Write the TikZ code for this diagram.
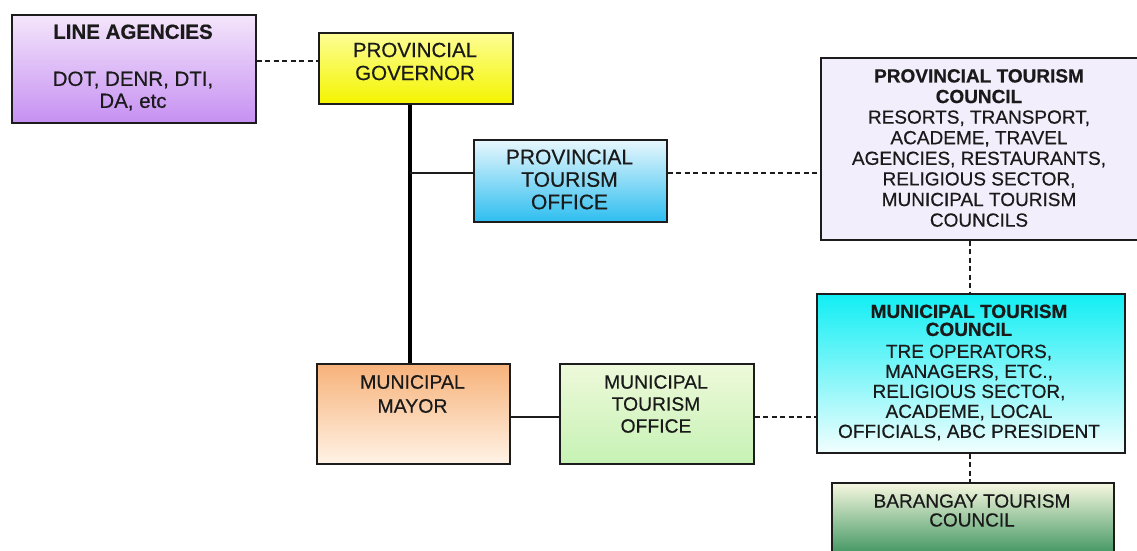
\documentclass[tikz,border=0pt]{standalone}
\usepackage{fontspec}
\setmainfont{Liberation Sans}[UprightFeatures={FakeBold=0.5},BoldFeatures={FakeBold=0.6}]
\definecolor{bordercol}{HTML}{1C1C1C}
\definecolor{textcol}{HTML}{1A1A1A}
\definecolor{laTop}{HTML}{F4E6FB}
\definecolor{laBot}{HTML}{C690F2}
\definecolor{govTop}{HTML}{FDFD96}
\definecolor{govBot}{HTML}{F4F400}
\definecolor{ptoTop}{HTML}{E8F7FD}
\definecolor{ptoBot}{HTML}{2EBEF0}
\definecolor{ptcFill}{HTML}{F2EEFB}
\definecolor{mtcTop}{HTML}{10EEF4}
\definecolor{mtcBot}{HTML}{F2FEFE}
\definecolor{mayTop}{HTML}{F7B27A}
\definecolor{mayBot}{HTML}{FFF3E6}
\definecolor{mtoTop}{HTML}{EEF9DA}
\definecolor{mtoBot}{HTML}{C6F2B4}
\definecolor{btcTop}{HTML}{F7F8E0}
\definecolor{btcBot}{HTML}{2A8A52}
\begin{document}
\begin{tikzpicture}[x=1pt,y=-1pt,
  box/.style={draw=bordercol, line width=1.6pt, rectangle, inner sep=0pt, anchor=north west},
  txt/.style={align=center, inner sep=0pt, text=textcol},
  solidline/.style={draw=bordercol, line width=1.6pt},
  thickline/.style={draw=black, line width=4pt},
  dashline/.style={draw=bordercol, line width=1.8pt, dash pattern=on 5pt off 3.5pt}]
\useasboundingbox (0,0) rectangle (1137,551);
% boxes
\node[box, top color=laTop, bottom color=laBot, minimum width=244pt, minimum height=108pt] (la) at (11,14) {};
\node[box, top color=govTop, bottom color=govBot, minimum width=194pt, minimum height=71pt] (gov) at (318,32) {};
\node[box, top color=ptoTop, bottom color=ptoBot, minimum width=193pt, minimum height=82pt] (pto) at (473,139) {};
\node[box, fill=ptcFill, minimum width=318pt, minimum height=182pt] (ptc) at (820,57) {};
\node[box, top color=mtcTop, bottom color=mtcBot, minimum width=308pt, minimum height=159pt] (mtc) at (816,293) {};
\node[box, top color=btcTop, bottom color=btcBot, minimum width=282pt, minimum height=80pt] (btc) at (831,482) {};
\node[box, top color=mayTop, bottom color=mayBot, minimum width=193pt, minimum height=100pt] (may) at (316,363) {};
\node[box, top color=mtoTop, bottom color=mtoBot, minimum width=194pt, minimum height=100pt] (mto) at (559,363) {};
% helper coordinates
\coordinate (laY) at (0,61);
\coordinate (trunk) at (410,0);
\coordinate (ptoY) at (0,173);
\coordinate (mayY) at (0,417);
\coordinate (col) at (970,0);
% connectors
\draw[dashline] (la.east |- laY) -- (gov.west |- laY);
\draw[thickline] (gov.south -| trunk) -- (may.north -| trunk);
\draw[solidline] (trunk |- ptoY) -- (pto.west |- ptoY);
\draw[dashline] (pto.east |- ptoY) -- (ptc.west |- ptoY);
\draw[dashline] (ptc.south -| col) -- (mtc.north -| col);
\draw[solidline] (may.east |- mayY) -- (mto.west |- mayY);
\draw[dashline] (mto.east |- mayY) -- (mtc.west |- mayY);
\draw[dashline] (mtc.south -| col) -- (btc.north -| col);
% texts
\node[txt, font=\fontsize{20.5}{22}\selectfont] (la-t) at (133,67.5) {\textbf{LINE AGENCIES}\\[25pt]DOT, DENR, DTI,\\DA, etc};
\node[txt, font=\fontsize{20.5}{23}\selectfont] (gov-t) at (415,61.5) {PROVINCIAL\\GOVERNOR};
\node[txt, font=\fontsize{21}{22.5}\selectfont] (pto-t) at (569.5,179.5) {PROVINCIAL\\TOURISM\\OFFICE};
\node[txt, font=\fontsize{19}{20.6}\selectfont] (ptc-t) at (979,148) {\textbf{PROVINCIAL TOURISM}\\\textbf{COUNCIL}\\RESORTS, TRANSPORT,\\ACADEME, TRAVEL\\AGENCIES, RESTAURANTS,\\RELIGIOUS SECTOR,\\MUNICIPAL TOURISM\\COUNCILS};
\node[txt, font=\fontsize{19}{20}\selectfont] (mtc-t) at (969,372.5) {\textbf{MUNICIPAL TOURISM}\\[-2pt]\textbf{COUNCIL}\\[2pt]TRE OPERATORS,\\MANAGERS, ETC.,\\RELIGIOUS SECTOR,\\ACADEME, LOCAL\\OFFICIALS, ABC PRESIDENT};
\node[txt, font=\fontsize{19.5}{24}\selectfont] (may-t) at (412.5,394) {MUNICIPAL\\MAYOR};
\node[txt, font=\fontsize{19.3}{22}\selectfont] (mto-t) at (656,404) {MUNICIPAL\\TOURISM\\OFFICE};
\node[txt, font=\fontsize{19}{19}\selectfont] (btc-t) at (972,510.5) {BARANGAY TOURISM\\COUNCIL};
\end{tikzpicture}
\end{document}
